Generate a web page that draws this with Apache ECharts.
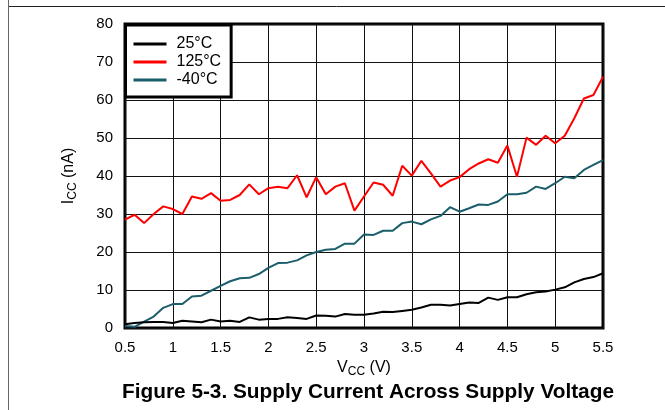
<!DOCTYPE html>
<html>
<head>
<meta charset="utf-8">
<script src="https://cdn.jsdelivr.net/npm/echarts@6/dist/echarts.min.js"></script>
<style>
html,body{margin:0;padding:0;background:#fff;}
#chart{width:665px;height:410px;}
</style>
</head>
<body>
<div id="chart"></div>
<script>
// Supply voltage (V)
var vcc = [0.5,0.6,0.7,0.8,0.9,1.0,1.1,1.2,1.3,1.4,1.5,1.6,1.7,1.8,1.9,2.0,2.1,2.2,2.3,2.4,2.5,2.6,2.7,2.8,2.9,3.0,3.1,3.2,3.3,3.4,3.5,3.6,3.7,3.8,3.9,4.0,4.1,4.2,4.3,4.4,4.5,4.6,4.7,4.8,4.9,5.0,5.1,5.2,5.3,5.4,5.5];
// Icc (nA) at 25°C
var icc25 = [1.0,1.3,1.5,1.6,1.6,1.3,1.9,1.7,1.5,2.2,1.7,1.9,1.6,2.8,2.2,2.4,2.4,2.8,2.6,2.4,3.3,3.2,3.0,3.7,3.5,3.5,3.8,4.3,4.2,4.5,4.8,5.4,6.1,6.1,5.9,6.3,6.7,6.6,8.0,7.4,8.1,8.1,8.9,9.4,9.6,10.1,10.7,12.0,12.9,13.4,14.4];
// Icc (nA) at 125°C
var icc125 = [28.5,29.8,27.6,30.0,32.0,31.3,30.0,34.6,34.0,35.5,33.5,33.7,35.0,37.8,35.2,36.8,37.2,36.8,40.2,34.4,39.7,35.2,37.2,38.1,30.9,34.6,38.3,37.7,34.8,42.7,40.1,44.0,40.7,37.2,38.8,39.7,41.8,43.3,44.4,43.5,48.0,39.8,50.1,48.2,50.6,48.6,50.6,55.2,60.4,61.3,66.1];
// Icc (nA) at -40°C
var iccM40 = [0.5,0.3,1.7,3.0,5.3,6.3,6.3,8.3,8.5,9.8,11.1,12.3,13.1,13.2,14.2,15.8,17.1,17.2,17.8,19.1,20.0,20.6,20.8,22.2,22.2,24.6,24.5,25.6,25.6,27.6,28.0,27.3,28.6,29.5,31.8,30.6,31.5,32.5,32.4,33.3,35.2,35.2,35.6,37.2,36.6,38.1,39.8,39.4,41.6,42.9,44.2];
var seriesNames = ['25°C','125°C','-40°C'];
var seriesColors = ['#000000','#ff0000','#1b5e6b'];
var xTicks = {min:0.5, max:5.5, interval:0.5};
var yTicks = {min:0, max:80, interval:10};

function pairs(ys){ return vcc.map(function(v,i){ return [v, ys[i]]; }); }
var allData = [icc25, icc125, iccM40];

var chart = echarts.init(document.getElementById('chart'), null, {renderer:'canvas'});
var font = 'Liberation Sans, Arial, sans-serif';
chart.setOption({
  animation:false,
  backgroundColor:'#ffffff',
  textStyle:{fontFamily:font},
  grid:{left:125, top:24, width:478, height:304, show:true, borderColor:'#000', borderWidth:3, backgroundColor:'transparent'},
  legend:{
    orient:'vertical', left:125.5, top:25,
    padding:[11,10,9,8], itemGap:2,
    backgroundColor:'#fff', borderColor:'#000', borderWidth:3,
    itemWidth:33, itemHeight:3, icon:'rect',
    textStyle:{fontFamily:font, fontSize:16, color:'#000', lineHeight:16, padding:[0,0,0,5]},
    data:seriesNames
  },
  xAxis:{
    type:'value', min:xTicks.min, max:xTicks.max, interval:xTicks.interval,
    axisLine:{show:false}, axisTick:{show:false},
    axisLabel:{color:'#000', fontSize:15, margin:12, fontFamily:font},
    splitLine:{show:true, lineStyle:{color:'#111', width:1}},
    name:'{i|V}{s|CC}{i| (V)}', nameLocation:'middle', nameGap:30,
    nameTextStyle:{color:'#000', rich:{
      i:{fontSize:16, fontFamily:font, color:'#000', lineHeight:20},
      s:{fontSize:12, fontFamily:font, color:'#000', lineHeight:10, verticalAlign:'bottom'}
    }}
  },
  yAxis:{
    type:'value', min:yTicks.min, max:yTicks.max, interval:yTicks.interval,
    axisLine:{show:false}, axisTick:{show:false},
    axisLabel:{color:'#000', fontSize:15, margin:12, fontFamily:font},
    splitLine:{show:true, lineStyle:{color:'#111', width:1}},
    name:'{i|I}{s|CC}{i| (nA)}', nameLocation:'middle', nameGap:46, nameRotate:90,
    nameTextStyle:{color:'#000', rich:{
      i:{fontSize:16, fontFamily:font, color:'#000', lineHeight:20},
      s:{fontSize:12, fontFamily:font, color:'#000', lineHeight:10, verticalAlign:'bottom'}
    }}
  },
  title:{
    text:'Figure 5-3. Supply Current Across Supply Voltage',
    left:363, textAlign:'center', top:377,
    textStyle:{fontFamily:font, fontSize:20.8, fontWeight:'bold', color:'#000'}
  },
  graphic:[
    {type:'line', shape:{x1:8, y1:6.5, x2:665, y2:6.5}, style:{stroke:'#222', lineWidth:1}, silent:true},
    {type:'line', shape:{x1:8.5, y1:0, x2:8.5, y2:410}, style:{stroke:'#666', lineWidth:1}, silent:true}
  ],
  series: seriesNames.map(function(n,k){
    return {
      name:n, type:'line', data:pairs(allData[k]), symbol:'none',
      lineStyle:{color:seriesColors[k], width:2}, itemStyle:{color:seriesColors[k]},
      z: 3 + (k===0 ? 2 : 0)
    };
  })
});
</script>
</body>
</html>
